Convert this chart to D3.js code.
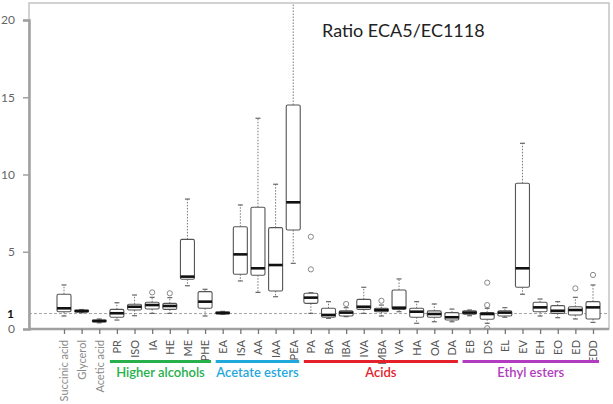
<!DOCTYPE html>
<html><head><meta charset="utf-8">
<script src="https://cdn.jsdelivr.net/npm/d3@7"></script>
<style>
html,body{margin:0;padding:0;background:#fff;}
svg{display:block;}
text{font-family:Lato,"Open Sans",sans-serif;}
</style></head>
<body>
<svg id="chart" width="613" height="404"></svg>
<script>
const categories = ["Succinic acid","Glycerol","Acetic acid","PR","ISO","IA","HE","ME","PHE","EA","ISA","AA","IAA","PEA","PA","BA","IBA","IVA","MBA","VA","HA","OA","DA","EB","DS","EL","EV","EH","EO","ED","EDD"];
const whiskerLow  = [0.84,1.05,0.40,0.58,0.86,1.01,1.01,2.80,0.84,0.95,3.11,2.37,2.09,4.25,1.01,0.69,0.80,1.01,0.84,1.12,0.37,0.47,0.47,0.86,0.37,0.76,2.25,0.84,0.73,0.65,0.43];
const q1          = [1.12,1.10,0.46,0.76,1.23,1.29,1.27,3.22,1.34,0.98,3.54,3.48,2.46,6.41,1.66,0.76,0.84,1.27,1.12,1.27,0.76,0.76,0.58,0.95,0.63,0.84,2.70,1.12,1.01,0.91,0.65];
const medians     = [1.34,1.16,0.52,1.02,1.44,1.55,1.49,3.39,1.77,1.04,4.83,3.93,4.14,8.20,2.03,0.91,1.06,1.44,1.23,1.38,1.12,0.97,0.76,1.06,0.97,1.06,3.93,1.40,1.18,1.23,1.40];
const q3          = [2.25,1.22,0.58,1.27,1.60,1.73,1.66,5.80,2.42,1.10,6.62,7.88,6.56,14.50,2.31,1.34,1.18,1.92,1.34,2.52,1.34,1.17,1.06,1.17,1.06,1.18,9.43,1.73,1.51,1.44,1.77];
const whiskerHigh = [2.85,1.26,0.65,1.70,2.20,2.05,2.03,8.41,2.57,1.14,8.03,13.64,9.37,22.0,2.35,1.77,1.38,2.70,1.55,3.24,1.77,1.62,1.29,1.23,1.34,1.38,12.02,1.94,1.77,2.05,2.85];
const outliers    = [[],[],[],[],[],[2.37],[2.31],[],[],[],[],[],[],[],[5.97,3.86],[],[1.62],[],[1.83],[],[],[],[],[],[3.0,1.55,0.05],[],[],[],[],[2.63],[3.5]];
const yTicks = [0,5,10,15,20];
const groupNames  = ["Higher alcohols","Acetate esters","Acids","Ethyl esters"];
const groupStart  = ["PR","EA","PA","EB"];
const groupEnd    = ["PHE","PEA","DA","EDD"];
const groupColors = ["#27b04b","#1fa8dc","#e4212b","#b13cc0"];
const title = "Ratio ECA5/EC1118";

const svg = d3.select("#chart");
const L = 29, R = 609, T = 3, B = 329;

const x = d3.scalePoint().domain(categories).range([64, 593]);
const y = d3.scaleLinear().domain([0, 20]).range([B, 20]);

svg.append("defs").append("clipPath").attr("id","plotclip")
  .append("rect").attr("x", L).attr("y", T).attr("width", R - L).attr("height", B - T);

// frame
svg.append("rect").attr("x", L).attr("y", T).attr("width", R - L).attr("height", B - T)
  .attr("fill","none").attr("stroke","#c4c4c4").attr("stroke-width",1.5);

// reference line at 1
svg.append("line").attr("x1", L).attr("x2", R).attr("y1", y(1)).attr("y2", y(1))
  .attr("stroke","#9a9a9a").attr("stroke-width",0.9).attr("stroke-dasharray","3,2");

// y axis
const yAxis = svg.append("g").attr("transform", `translate(${L},0)`)
  .call(d3.axisLeft(y).tickValues(yTicks).tickSize(6).tickFormat(d3.format("d")));
yAxis.select(".domain").attr("stroke","#a0a0a0").attr("stroke-width",2.5);
yAxis.selectAll(".tick line").attr("stroke","#a0a0a0").attr("stroke-width",1.5);
yAxis.selectAll(".tick text").attr("x",-14).attr("fill","#666").style("font-size","12px").style("font-family","Lato");
svg.append("text").attr("x", L - 15).attr("y", y(1)).attr("dy","0.35em").attr("text-anchor","end")
  .attr("fill","#111").style("font-size","12px").style("font-weight","bold").text("1");

// x axis
const xAxis = svg.append("g").attr("transform", `translate(0,${B})`)
  .call(d3.axisBottom(x).tickSize(5).tickSizeOuter(0));
xAxis.select(".domain").attr("d", `M${L},0H${R}`).attr("stroke","#a0a0a0").attr("stroke-width",2.5);
xAxis.selectAll(".tick line").attr("stroke","#777").attr("stroke-width",1.3);
xAxis.selectAll(".tick text")
  .attr("transform","rotate(-90)").attr("x",-11).attr("y",0).attr("dy","0.35em")
  .style("text-anchor","end")
  .attr("fill", (d,i) => i < 3 ? "#8a8a8a" : "#555")
  .style("font-size", "11px")
  .style("font-family","Lato");

// boxes
const bw = 14, cap = 5;
const plot = svg.append("g").attr("clip-path","url(#plotclip)");
const g = plot.selectAll("g.box").data(categories).join("g").attr("class","box")
  .attr("transform", d => `translate(${x(d)},0)`);

g.append("line").attr("x1",0).attr("x2",0)
  .attr("y1",(d,i)=>y(q3[i])).attr("y2",(d,i)=>y(whiskerHigh[i]))
  .attr("stroke","#777").attr("stroke-width",1).attr("stroke-dasharray","1.5,1.5");
g.append("line").attr("x1",0).attr("x2",0)
  .attr("y1",(d,i)=>y(q1[i])).attr("y2",(d,i)=>y(whiskerLow[i]))
  .attr("stroke","#777").attr("stroke-width",1).attr("stroke-dasharray","1.5,1.5");
g.append("line").attr("x1",-cap/2).attr("x2",cap/2)
  .attr("y1",(d,i)=>y(whiskerHigh[i])).attr("y2",(d,i)=>y(whiskerHigh[i]))
  .attr("stroke","#666").attr("stroke-width",1.2);
g.append("line").attr("x1",-cap/2).attr("x2",cap/2)
  .attr("y1",(d,i)=>y(whiskerLow[i])).attr("y2",(d,i)=>y(whiskerLow[i]))
  .attr("stroke","#666").attr("stroke-width",1.2);
g.append("rect").attr("x",-bw/2).attr("width",bw)
  .attr("y",(d,i)=>y(q3[i])).attr("height",(d,i)=>Math.max(1,y(q1[i])-y(q3[i])))
  .attr("rx",1.5)
  .attr("fill","#fff").attr("stroke","#555").attr("stroke-width",1.1);
g.append("line").attr("x1",-bw/2).attr("x2",bw/2)
  .attr("y1",(d,i)=>y(medians[i])).attr("y2",(d,i)=>y(medians[i]))
  .attr("stroke","#111").attr("stroke-width",2.6);
g.selectAll("circle").data((d,i)=>outliers[i]).join("circle")
  .attr("cx",0).attr("cy",v=>y(v)).attr("r",2.6)
  .attr("fill","none").attr("stroke","#888").attr("stroke-width",1);

// group bars and labels
groupNames.forEach((name,i)=>{
  const x0 = x(groupStart[i]) - 7, x1 = x(groupEnd[i]) + 6;
  svg.append("line").attr("x1",x0).attr("x2",x1).attr("y1",361.5).attr("y2",361.5)
    .attr("stroke",groupColors[i]).attr("stroke-width",3);
  svg.append("text").attr("x",(x0+x1)/2).attr("y",377).attr("text-anchor","middle")
    .attr("fill",groupColors[i]).style("font-size","13px").style("font-weight","600").text(name);
});

// title
svg.append("text").attr("x",322).attr("y",37).attr("fill","#222")
  .style("font-size","18px").text(title);
</script>
</body></html>
